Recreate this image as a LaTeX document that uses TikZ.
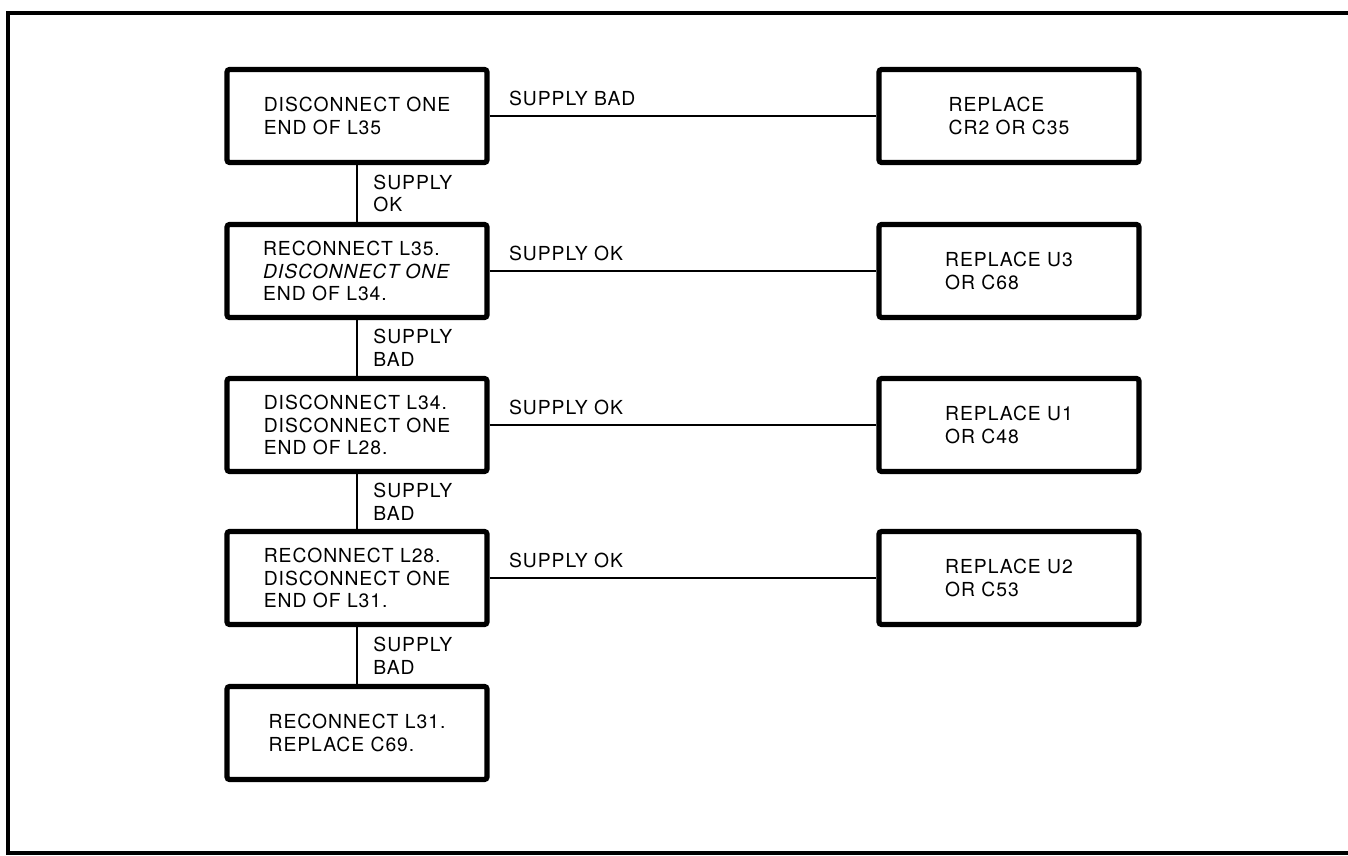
\documentclass[tikz,border=0pt]{standalone}
\usepackage{fontspec}
\setmainfont{TeX Gyre Heros}[LetterSpace=5]
\usetikzlibrary{positioning, calc}
\tikzset{
  actbox/.style={draw, line width=3pt, rounded corners=1.5pt, minimum width=5.2cm,
    minimum height=1.86cm, align=left, inner sep=0pt},
  wire/.style={line width=1.6pt},
  lbl/.style={inner sep=0pt},
}

\begin{document}
\begin{tikzpicture}[x=0.02cm, y=-0.02cm, font=\fontsize{11}{12.9}\selectfont]
        \useasboundingbox (0,0) rectangle (1348,855);
        % frame round the page
        \draw[line width=2pt] (1360,13) -- (8,13) -- (8,853) -- (1360,853);

        % test steps
        \node[actbox] (d1) at (357,116) {DISCONNECT ONE\\END OF L35};
        \node[actbox] (d2) at (357,271) {RECONNECT L35.\\\textit{DISCONNECT ONE}\\END OF L34.};
        \node[actbox] (d3) at (357,425) {DISCONNECT L34.\\DISCONNECT ONE\\END OF L28.};
        \node[actbox] (d4) at (357,578) {RECONNECT L28.\\DISCONNECT ONE\\END OF L31.};
        \node[actbox] (d5) at (357,733) {RECONNECT L31.\\REPLACE C69.};

        % repairs
        \node[actbox] (r1) at (1009,116) {REPLACE\\CR2 OR C35};
        \node[actbox] (r2) at (1009,271) {REPLACE U3\\OR C68};
        \node[actbox] (r3) at (1009,425) {REPLACE U1\\OR C48};
        \node[actbox] (r4) at (1009,578) {REPLACE U2\\OR C53};

        % down the chain
        \draw[wire] (d1) -- node[lbl, align=left, right=0.3cm] {SUPPLY\\OK} (d2);
        \draw[wire] (d2) -- node[lbl, align=left, right=0.3cm] {SUPPLY\\BAD} (d3);
        \draw[wire] (d3) -- node[lbl, align=left, right=0.3cm] {SUPPLY\\BAD} (d4);
        \draw[wire] (d4) -- node[lbl, align=left, right=0.3cm] {SUPPLY\\BAD} (d5);

        % across to the repairs
        \draw[wire] (d1) -- node[lbl, pos=0, anchor=south west, xshift=0.36cm, yshift=5pt] {SUPPLY BAD} (r1);
        \draw[wire] (d2) -- node[lbl, pos=0, anchor=south west, xshift=0.36cm, yshift=5pt] {SUPPLY OK} (r2);
        \draw[wire] (d3) -- node[lbl, pos=0, anchor=south west, xshift=0.36cm, yshift=5pt] {SUPPLY OK} (r3);
        \draw[wire] (d4) -- node[lbl, pos=0, anchor=south west, xshift=0.36cm, yshift=5pt] {SUPPLY OK} (r4);
\end{tikzpicture}
\end{document}
